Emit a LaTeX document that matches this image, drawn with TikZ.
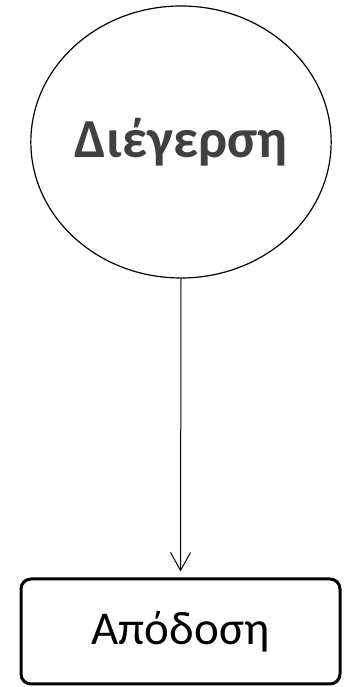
\documentclass[tikz,border=0pt]{standalone}
\usepackage{fontspec}
\setmainfont{Carlito}
\usetikzlibrary{positioning,arrows.meta,shapes.geometric}
\definecolor{ink}{HTML}{404040}

\begin{document}
\begin{tikzpicture}[x=1pt,y=1pt,
  stim/.style={draw=black,ellipse,line width=1.2pt,inner sep=0pt,
    minimum width=288pt,minimum height=272pt,
    font=\fontsize{55}{64}\selectfont\bfseries,text=ink},
  perfbox/.style={draw=black,rectangle,rounded corners=10pt,line width=3pt,
    inner sep=0pt,minimum width=319pt,minimum height=105pt,
    font=\fontsize{47}{56}\selectfont}]
  \useasboundingbox (0,0) rectangle (350,687);
  \node[stim] (excite) at (181,545) {Διέγερση};
  \node[perfbox] (output) at (180.5,55.5) {Απόδοση};
  \draw[line width=1pt,-{Straight Barb[length=18pt,width=20pt,line width=1pt]},
    shorten >=6pt] (excite.south) -- (output.north);
\end{tikzpicture}
\end{document}
